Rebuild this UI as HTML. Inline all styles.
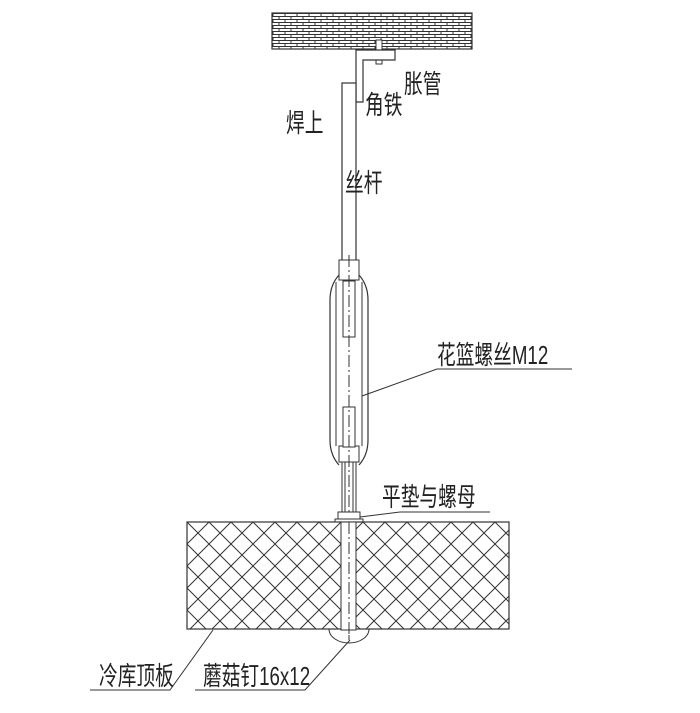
<!DOCTYPE html>
<html><head><meta charset="utf-8"><style>
html,body{margin:0;padding:0;background:#fff;}
svg{display:block;}
text{font-family:"Liberation Sans","Noto Sans CJK SC",sans-serif;fill:#222;}
</style></head><body>
<svg width="700" height="713" viewBox="0 0 700 713" xmlns="http://www.w3.org/2000/svg">
<defs>
<pattern id="brick" width="12" height="6" patternUnits="userSpaceOnUse" x="272" y="13">
<rect width="12" height="6" fill="#fff"/>
<path d="M0 0.5H12 M0 3.5H12 M1 0.5V3.5 M7 3.5V6.5" stroke="#333" stroke-width="1" fill="none"/>
</pattern>
<pattern id="hatch" width="22" height="22" patternUnits="userSpaceOnUse" x="187" y="522">
<path d="M0 0L22 22 M22 0L0 22" stroke="#333" stroke-width="1" fill="none"/>
</pattern>
</defs>
<rect x="272" y="13" width="200" height="36" fill="url(#brick)" stroke="#333" stroke-width="1.2"/>
<rect x="376" y="40" width="6" height="24" fill="#fff" stroke="#333"/>
<path d="M356 50H395V60H363V102H356Z" fill="#fff" stroke="#333" stroke-width="1.2"/>
<rect x="342" y="83" width="14" height="178" fill="#fff" stroke="#333" stroke-width="1.2"/>
<path d="M339 275 Q330 285 330 300 V440 Q330 455 339 465 M359 275 Q368 285 368 300 V440 Q368 455 359 465" fill="none" stroke="#333" stroke-width="1.2"/>
<rect x="339" y="260" width="20" height="20" fill="#fff" stroke="#333"/>
<rect x="339" y="446" width="20" height="16" fill="#fff" stroke="#333"/>
<line x1="336" y1="282" x2="336" y2="446" stroke="#333"/>
<line x1="362" y1="282" x2="362" y2="446" stroke="#333"/>
<rect x="343" y="281" width="12" height="56" fill="#fff" stroke="#333"/>
<rect x="343" y="407" width="12" height="40" fill="#fff" stroke="#333"/>
<line x1="349" y1="255" x2="349" y2="640" stroke="#333" stroke-dasharray="12,3,2,3"/>
<rect x="342" y="462" width="14" height="52" fill="none" stroke="#333"/>
<line x1="345" y1="462" x2="345" y2="514" stroke="#333"/>
<line x1="353" y1="462" x2="353" y2="514" stroke="#333"/>
<rect x="338" y="512" width="22" height="7" fill="#fff" stroke="#333"/>
<rect x="335" y="519" width="28" height="3" fill="#fff" stroke="#333"/>
<rect x="187" y="522" width="322" height="107" fill="url(#hatch)" stroke="#333" stroke-width="1.2"/>
<rect x="341" y="522" width="15" height="108" fill="#fff" stroke="#333"/>
<line x1="349" y1="522" x2="349" y2="640" stroke="#333" stroke-dasharray="12,3,2,3"/>
<path d="M329 629 A20 14 0 0 0 369 629" fill="none" stroke="#333"/>
<path d="M362 396 L437 369 H572" fill="none" stroke="#333"/>
<path d="M360 517 L400 512 H490" fill="none" stroke="#333"/>
<path d="M90 690 H170 L213 630" fill="none" stroke="#333"/>
<path d="M195 690 H305 L350 640" fill="none" stroke="#333"/>
<g font-size="26">
<text transform="translate(404,93) scale(0.72,1)">胀管</text>
<text transform="translate(365,114) scale(0.72,1)">角铁</text>
<text transform="translate(286,132) scale(0.72,1)">焊上</text>
<text transform="translate(345,192) scale(0.72,1)">丝杆</text>
<text transform="translate(437,364) scale(0.72,1)">花篮螺丝M12</text>
<text transform="translate(382,506) scale(0.72,1)">平垫与螺母</text>
<text transform="translate(99,685) scale(0.72,1)">冷库顶板</text>
<text transform="translate(203,685) scale(0.72,1)">蘑菇钉16x12</text>
</g>
</svg>
</body></html>
